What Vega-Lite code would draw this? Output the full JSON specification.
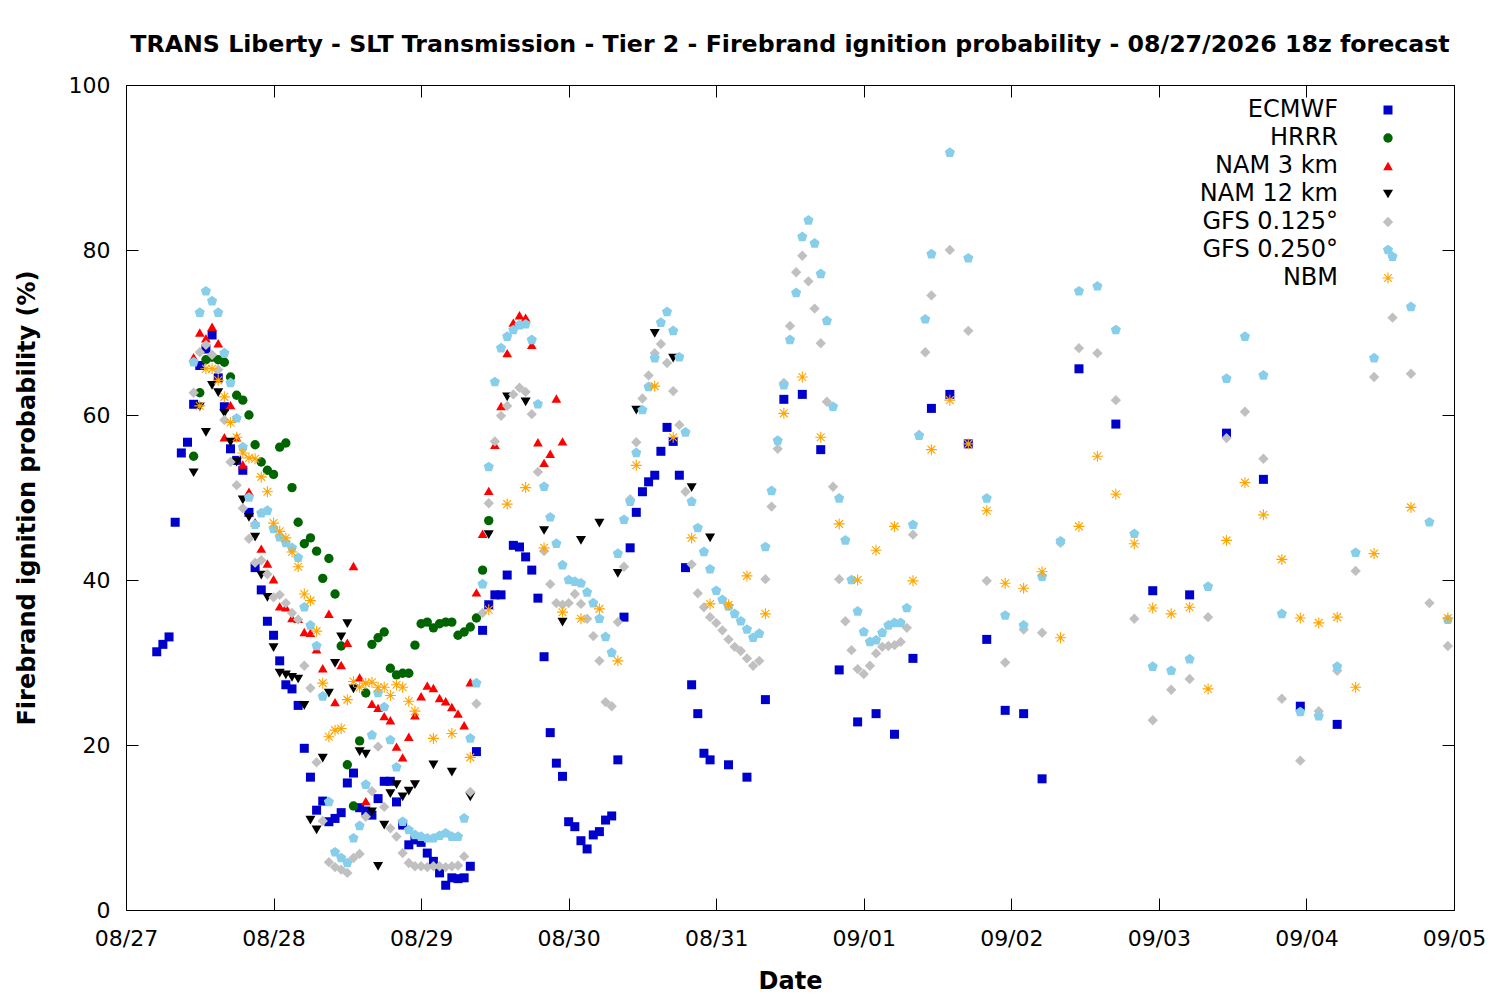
{
  "$schema": "https://vega.github.io/schema/vega-lite/v6.json",
  "width": 1328,
  "height": 825,
  "autosize": "none",
  "padding": {"left": 126, "top": 85, "right": 46, "bottom": 90},
  "background": "white",
  "title": {
    "text": "TRANS Liberty - SLT Transmission - Tier 2 - Firebrand ignition probability - 08/27/2026 18z forecast",
    "frame": "group",
    "anchor": "middle",
    "font": "DejaVu Sans",
    "fontSize": 23.7,
    "fontWeight": "bold",
    "color": "black",
    "offset": 17
  },
  "config": {
    "view": {"stroke": "black", "strokeWidth": 1},
    "font": "DejaVu Sans",
    "axis": {
      "grid": false,
      "domain": false,
      "tickColor": "black",
      "tickSize": -12,
      "tickWidth": 1,
      "labelFont": "DejaVu Sans",
      "labelFontSize": 22,
      "labelColor": "black",
      "titleFont": "DejaVu Sans",
      "titleFontSize": 24,
      "titleFontWeight": "bold",
      "titleColor": "black"
    },
    "legend": {
      "orient": "none",
      "legendX": 1250,
      "legendY": 13,
      "padding": 0,
      "labelFont": "DejaVu Sans",
      "labelFontSize": 24,
      "labelColor": "black",
      "labelAlign": "right",
      "labelOffset": -62,
      "rowPadding": 4,
      "symbolStrokeWidth": 0,
      "symbolOpacity": 1
    }
  },
  "data": {
    "values": [
      {"model":"ECMWF","hour":5,"prob":31.3},{"model":"ECMWF","hour":6,"prob":32.2},{"model":"ECMWF","hour":7,"prob":33.1},{"model":"ECMWF","hour":8,"prob":47},{"model":"ECMWF","hour":9,"prob":55.4},{"model":"ECMWF","hour":10,"prob":56.7},{"model":"ECMWF","hour":11,"prob":61.3},{"model":"ECMWF","hour":12,"prob":66},{"model":"ECMWF","hour":13,"prob":68},{"model":"ECMWF","hour":14,"prob":69.7},{"model":"ECMWF","hour":15,"prob":64.5},{"model":"ECMWF","hour":16,"prob":61},{"model":"ECMWF","hour":17,"prob":55.9},{"model":"ECMWF","hour":18,"prob":54.5},{"model":"ECMWF","hour":19,"prob":53.3},{"model":"ECMWF","hour":20,"prob":48.2},{"model":"ECMWF","hour":21,"prob":41.5},{"model":"ECMWF","hour":22,"prob":38.8},{"model":"ECMWF","hour":23,"prob":35},{"model":"ECMWF","hour":24,"prob":33.3},{"model":"ECMWF","hour":25,"prob":30.2},{"model":"ECMWF","hour":26,"prob":27.3},{"model":"ECMWF","hour":27,"prob":26.8},{"model":"ECMWF","hour":28,"prob":24.8},{"model":"ECMWF","hour":29,"prob":19.6},{"model":"ECMWF","hour":30,"prob":16.1},{"model":"ECMWF","hour":31,"prob":12.1},{"model":"ECMWF","hour":32,"prob":13.2},{"model":"ECMWF","hour":33,"prob":10.7},{"model":"ECMWF","hour":34,"prob":11.1},{"model":"ECMWF","hour":35,"prob":11.8},{"model":"ECMWF","hour":36,"prob":15.4},{"model":"ECMWF","hour":37,"prob":16.6},{"model":"ECMWF","hour":38,"prob":12.4},{"model":"ECMWF","hour":39,"prob":12},{"model":"ECMWF","hour":40,"prob":11.5},{"model":"ECMWF","hour":41,"prob":13.5},{"model":"ECMWF","hour":42,"prob":15.6},{"model":"ECMWF","hour":43,"prob":15.6},{"model":"ECMWF","hour":44,"prob":13.1},{"model":"ECMWF","hour":45,"prob":10.3},{"model":"ECMWF","hour":46,"prob":7.9},{"model":"ECMWF","hour":47,"prob":8.5},{"model":"ECMWF","hour":48,"prob":8.2},{"model":"ECMWF","hour":49,"prob":6.9},{"model":"ECMWF","hour":50,"prob":5.9},{"model":"ECMWF","hour":51,"prob":4.5},{"model":"ECMWF","hour":52,"prob":3},{"model":"ECMWF","hour":53,"prob":3.9},{"model":"ECMWF","hour":54,"prob":3.8},{"model":"ECMWF","hour":55,"prob":3.9},{"model":"ECMWF","hour":56,"prob":5.3},{"model":"ECMWF","hour":57,"prob":19.2},{"model":"ECMWF","hour":58,"prob":33.9},{"model":"ECMWF","hour":59,"prob":37},{"model":"ECMWF","hour":60,"prob":38.2},{"model":"ECMWF","hour":61,"prob":38.2},{"model":"ECMWF","hour":62,"prob":40.6},{"model":"ECMWF","hour":63,"prob":44.2},{"model":"ECMWF","hour":64,"prob":44},{"model":"ECMWF","hour":65,"prob":42.8},{"model":"ECMWF","hour":66,"prob":41.2},{"model":"ECMWF","hour":67,"prob":37.8},{"model":"ECMWF","hour":68,"prob":30.7},{"model":"ECMWF","hour":69,"prob":21.5},{"model":"ECMWF","hour":70,"prob":17.8},{"model":"ECMWF","hour":71,"prob":16.2},{"model":"ECMWF","hour":72,"prob":10.7},{"model":"ECMWF","hour":73,"prob":10.1},{"model":"ECMWF","hour":74,"prob":8.4},{"model":"ECMWF","hour":75,"prob":7.4},{"model":"ECMWF","hour":76,"prob":9.1},{"model":"ECMWF","hour":77,"prob":9.5},{"model":"ECMWF","hour":78,"prob":10.9},{"model":"ECMWF","hour":79,"prob":11.4},{"model":"ECMWF","hour":80,"prob":18.2},{"model":"ECMWF","hour":81,"prob":35.5},{"model":"ECMWF","hour":82,"prob":43.9},{"model":"ECMWF","hour":83,"prob":48.2},{"model":"ECMWF","hour":84,"prob":50.7},{"model":"ECMWF","hour":85,"prob":51.9},{"model":"ECMWF","hour":86,"prob":52.7},{"model":"ECMWF","hour":87,"prob":55.6},{"model":"ECMWF","hour":88,"prob":58.5},{"model":"ECMWF","hour":89,"prob":56.8},{"model":"ECMWF","hour":90,"prob":52.7},{"model":"ECMWF","hour":91,"prob":41.5},{"model":"ECMWF","hour":92,"prob":27.3},{"model":"ECMWF","hour":93,"prob":23.8},{"model":"ECMWF","hour":94,"prob":19},{"model":"ECMWF","hour":95,"prob":18.2},{"model":"ECMWF","hour":98,"prob":17.6},{"model":"ECMWF","hour":101,"prob":16.1},{"model":"ECMWF","hour":104,"prob":25.5},{"model":"ECMWF","hour":107,"prob":61.9},{"model":"ECMWF","hour":110,"prob":62.5},{"model":"ECMWF","hour":113,"prob":55.8},{"model":"ECMWF","hour":116,"prob":29.1},{"model":"ECMWF","hour":119,"prob":22.8},{"model":"ECMWF","hour":122,"prob":23.8},{"model":"ECMWF","hour":125,"prob":21.3},{"model":"ECMWF","hour":128,"prob":30.5},{"model":"ECMWF","hour":131,"prob":60.8},{"model":"ECMWF","hour":134,"prob":62.5},{"model":"ECMWF","hour":137,"prob":56.5},{"model":"ECMWF","hour":140,"prob":32.8},{"model":"ECMWF","hour":143,"prob":24.2},{"model":"ECMWF","hour":146,"prob":23.8},{"model":"ECMWF","hour":149,"prob":15.9},{"model":"ECMWF","hour":155,"prob":65.6},{"model":"ECMWF","hour":161,"prob":58.9},{"model":"ECMWF","hour":167,"prob":38.7},{"model":"ECMWF","hour":173,"prob":38.2},{"model":"ECMWF","hour":179,"prob":57.8},{"model":"ECMWF","hour":185,"prob":52.2},{"model":"ECMWF","hour":191,"prob":24.7},{"model":"ECMWF","hour":197,"prob":22.5},

      {"model":"HRRR","hour":11,"prob":55},{"model":"HRRR","hour":12,"prob":62.7},{"model":"HRRR","hour":13,"prob":66.7},{"model":"HRRR","hour":14,"prob":67},{"model":"HRRR","hour":15,"prob":66.7},{"model":"HRRR","hour":16,"prob":66.4},{"model":"HRRR","hour":17,"prob":64.6},{"model":"HRRR","hour":18,"prob":62.4},{"model":"HRRR","hour":19,"prob":61.8},{"model":"HRRR","hour":20,"prob":60},{"model":"HRRR","hour":21,"prob":56.4},{"model":"HRRR","hour":22,"prob":54.3},{"model":"HRRR","hour":23,"prob":53.3},{"model":"HRRR","hour":24,"prob":52.8},{"model":"HRRR","hour":25,"prob":56.1},{"model":"HRRR","hour":26,"prob":56.6},{"model":"HRRR","hour":27,"prob":51.2},{"model":"HRRR","hour":28,"prob":47},{"model":"HRRR","hour":29,"prob":44.4},{"model":"HRRR","hour":30,"prob":45.1},{"model":"HRRR","hour":31,"prob":43.5},{"model":"HRRR","hour":32,"prob":40.2},{"model":"HRRR","hour":33,"prob":42.6},{"model":"HRRR","hour":34,"prob":38.3},{"model":"HRRR","hour":35,"prob":32},{"model":"HRRR","hour":36,"prob":17.6},{"model":"HRRR","hour":37,"prob":12.6},{"model":"HRRR","hour":38,"prob":20.5},{"model":"HRRR","hour":39,"prob":26.3},{"model":"HRRR","hour":40,"prob":32.2},{"model":"HRRR","hour":41,"prob":33},{"model":"HRRR","hour":42,"prob":33.7},{"model":"HRRR","hour":43,"prob":29.3},{"model":"HRRR","hour":44,"prob":28.5},{"model":"HRRR","hour":45,"prob":28.7},{"model":"HRRR","hour":46,"prob":28.7},{"model":"HRRR","hour":47,"prob":32.1},{"model":"HRRR","hour":48,"prob":34.7},{"model":"HRRR","hour":49,"prob":34.9},{"model":"HRRR","hour":50,"prob":34.2},{"model":"HRRR","hour":51,"prob":34.7},{"model":"HRRR","hour":52,"prob":34.9},{"model":"HRRR","hour":53,"prob":34.9},{"model":"HRRR","hour":54,"prob":33.3},{"model":"HRRR","hour":55,"prob":33.7},{"model":"HRRR","hour":56,"prob":34.3},{"model":"HRRR","hour":57,"prob":35.4},{"model":"HRRR","hour":58,"prob":41.2},{"model":"HRRR","hour":59,"prob":47.2},

      {"model":"NAM 3 km","hour":11,"prob":67},{"model":"NAM 3 km","hour":12,"prob":70},{"model":"NAM 3 km","hour":13,"prob":69.3},{"model":"NAM 3 km","hour":14,"prob":70.7},{"model":"NAM 3 km","hour":15,"prob":68.7},{"model":"NAM 3 km","hour":16,"prob":57.3},{"model":"NAM 3 km","hour":17,"prob":61.2},{"model":"NAM 3 km","hour":18,"prob":57.3},{"model":"NAM 3 km","hour":19,"prob":54},{"model":"NAM 3 km","hour":20,"prob":50.7},{"model":"NAM 3 km","hour":21,"prob":47},{"model":"NAM 3 km","hour":22,"prob":43.8},{"model":"NAM 3 km","hour":23,"prob":42},{"model":"NAM 3 km","hour":24,"prob":40.1},{"model":"NAM 3 km","hour":25,"prob":36.8},{"model":"NAM 3 km","hour":26,"prob":36.7},{"model":"NAM 3 km","hour":27,"prob":35.4},{"model":"NAM 3 km","hour":28,"prob":35.3},{"model":"NAM 3 km","hour":29,"prob":33.7},{"model":"NAM 3 km","hour":30,"prob":33.6},{"model":"NAM 3 km","hour":31,"prob":31.6},{"model":"NAM 3 km","hour":32,"prob":29.3},{"model":"NAM 3 km","hour":33,"prob":35.9},{"model":"NAM 3 km","hour":34,"prob":25.2},{"model":"NAM 3 km","hour":35,"prob":29.7},{"model":"NAM 3 km","hour":36,"prob":32.4},{"model":"NAM 3 km","hour":37,"prob":41.7},{"model":"NAM 3 km","hour":38,"prob":28.2},{"model":"NAM 3 km","hour":39,"prob":13.2},{"model":"NAM 3 km","hour":40,"prob":25},{"model":"NAM 3 km","hour":41,"prob":24.5},{"model":"NAM 3 km","hour":42,"prob":23.5},{"model":"NAM 3 km","hour":43,"prob":23},{"model":"NAM 3 km","hour":44,"prob":19.8},{"model":"NAM 3 km","hour":45,"prob":18.5},{"model":"NAM 3 km","hour":46,"prob":21},{"model":"NAM 3 km","hour":47,"prob":23.6},{"model":"NAM 3 km","hour":48,"prob":25.9},{"model":"NAM 3 km","hour":49,"prob":27.2},{"model":"NAM 3 km","hour":50,"prob":26.9},{"model":"NAM 3 km","hour":51,"prob":25.7},{"model":"NAM 3 km","hour":52,"prob":25.3},{"model":"NAM 3 km","hour":53,"prob":24.6},{"model":"NAM 3 km","hour":54,"prob":23.8},{"model":"NAM 3 km","hour":55,"prob":22.4},{"model":"NAM 3 km","hour":56,"prob":27.6},{"model":"NAM 3 km","hour":57,"prob":38.5},{"model":"NAM 3 km","hour":58,"prob":45.6},{"model":"NAM 3 km","hour":59,"prob":50.8},{"model":"NAM 3 km","hour":60,"prob":56.4},{"model":"NAM 3 km","hour":61,"prob":61.1},{"model":"NAM 3 km","hour":62,"prob":67.5},{"model":"NAM 3 km","hour":63,"prob":71.2},{"model":"NAM 3 km","hour":64,"prob":72.1},{"model":"NAM 3 km","hour":65,"prob":71.8},{"model":"NAM 3 km","hour":66,"prob":68.5},{"model":"NAM 3 km","hour":67,"prob":56.7},{"model":"NAM 3 km","hour":68,"prob":54.2},{"model":"NAM 3 km","hour":69,"prob":55.3},{"model":"NAM 3 km","hour":70,"prob":62},{"model":"NAM 3 km","hour":71,"prob":56.8},

      {"model":"NAM 12 km","hour":11,"prob":53},{"model":"NAM 12 km","hour":12,"prob":61},{"model":"NAM 12 km","hour":13,"prob":57.9},{"model":"NAM 12 km","hour":14,"prob":63.6},{"model":"NAM 12 km","hour":15,"prob":62.7},{"model":"NAM 12 km","hour":16,"prob":60.2},{"model":"NAM 12 km","hour":17,"prob":56.7},{"model":"NAM 12 km","hour":18,"prob":54.3},{"model":"NAM 12 km","hour":19,"prob":49.7},{"model":"NAM 12 km","hour":20,"prob":47.6},{"model":"NAM 12 km","hour":21,"prob":45.2},{"model":"NAM 12 km","hour":22,"prob":40.6},{"model":"NAM 12 km","hour":23,"prob":37.9},{"model":"NAM 12 km","hour":24,"prob":31.8},{"model":"NAM 12 km","hour":25,"prob":28.7},{"model":"NAM 12 km","hour":26,"prob":28.5},{"model":"NAM 12 km","hour":27,"prob":28.2},{"model":"NAM 12 km","hour":28,"prob":28},{"model":"NAM 12 km","hour":29,"prob":24.8},{"model":"NAM 12 km","hour":30,"prob":10.9},{"model":"NAM 12 km","hour":31,"prob":9.7},{"model":"NAM 12 km","hour":32,"prob":18.4},{"model":"NAM 12 km","hour":33,"prob":26.3},{"model":"NAM 12 km","hour":34,"prob":29.9},{"model":"NAM 12 km","hour":35,"prob":33.1},{"model":"NAM 12 km","hour":36,"prob":34.7},{"model":"NAM 12 km","hour":37,"prob":26.8},{"model":"NAM 12 km","hour":38,"prob":19.2},{"model":"NAM 12 km","hour":39,"prob":18.9},{"model":"NAM 12 km","hour":40,"prob":11.9},{"model":"NAM 12 km","hour":41,"prob":5.3},{"model":"NAM 12 km","hour":42,"prob":10.3},{"model":"NAM 12 km","hour":43,"prob":14.1},{"model":"NAM 12 km","hour":44,"prob":15.2},{"model":"NAM 12 km","hour":45,"prob":13.7},{"model":"NAM 12 km","hour":46,"prob":14.4},{"model":"NAM 12 km","hour":47,"prob":15.2},{"model":"NAM 12 km","hour":50,"prob":17.6},{"model":"NAM 12 km","hour":53,"prob":16.7},{"model":"NAM 12 km","hour":56,"prob":13.7},{"model":"NAM 12 km","hour":59,"prob":45.5},{"model":"NAM 12 km","hour":62,"prob":62.2},{"model":"NAM 12 km","hour":65,"prob":61.6},{"model":"NAM 12 km","hour":68,"prob":46},{"model":"NAM 12 km","hour":71,"prob":34.9},{"model":"NAM 12 km","hour":74,"prob":44.8},{"model":"NAM 12 km","hour":77,"prob":46.9},{"model":"NAM 12 km","hour":80,"prob":40.8},{"model":"NAM 12 km","hour":83,"prob":60.6},{"model":"NAM 12 km","hour":86,"prob":69.9},{"model":"NAM 12 km","hour":89,"prob":66.9},{"model":"NAM 12 km","hour":92,"prob":51.2},{"model":"NAM 12 km","hour":95,"prob":45.1},

      {"model":"GFS 0.125°","hour":11,"prob":62.7},{"model":"GFS 0.125°","hour":12,"prob":67.6},{"model":"GFS 0.125°","hour":13,"prob":68.5},{"model":"GFS 0.125°","hour":14,"prob":67.3},{"model":"GFS 0.125°","hour":15,"prob":65.5},{"model":"GFS 0.125°","hour":16,"prob":59.4},{"model":"GFS 0.125°","hour":17,"prob":54.3},{"model":"GFS 0.125°","hour":18,"prob":51.5},{"model":"GFS 0.125°","hour":19,"prob":48.7},{"model":"GFS 0.125°","hour":20,"prob":45},{"model":"GFS 0.125°","hour":21,"prob":42.1},{"model":"GFS 0.125°","hour":22,"prob":42.4},{"model":"GFS 0.125°","hour":23,"prob":40.7},{"model":"GFS 0.125°","hour":24,"prob":37.9},{"model":"GFS 0.125°","hour":25,"prob":38.2},{"model":"GFS 0.125°","hour":26,"prob":37.2},{"model":"GFS 0.125°","hour":27,"prob":36},{"model":"GFS 0.125°","hour":28,"prob":35.2},{"model":"GFS 0.125°","hour":29,"prob":29.6},{"model":"GFS 0.125°","hour":30,"prob":26.9},{"model":"GFS 0.125°","hour":31,"prob":17.9},{"model":"GFS 0.125°","hour":32,"prob":10.8},{"model":"GFS 0.125°","hour":33,"prob":5.8},{"model":"GFS 0.125°","hour":34,"prob":5.2},{"model":"GFS 0.125°","hour":35,"prob":4.9},{"model":"GFS 0.125°","hour":36,"prob":4.5},{"model":"GFS 0.125°","hour":37,"prob":6.3},{"model":"GFS 0.125°","hour":38,"prob":6.8},{"model":"GFS 0.125°","hour":39,"prob":11.3},{"model":"GFS 0.125°","hour":40,"prob":14.4},{"model":"GFS 0.125°","hour":41,"prob":19.8},{"model":"GFS 0.125°","hour":42,"prob":12.5},{"model":"GFS 0.125°","hour":43,"prob":9.9},{"model":"GFS 0.125°","hour":44,"prob":8.9},{"model":"GFS 0.125°","hour":45,"prob":6.9},{"model":"GFS 0.125°","hour":46,"prob":5.7},{"model":"GFS 0.125°","hour":47,"prob":5.3},{"model":"GFS 0.125°","hour":48,"prob":5.3},{"model":"GFS 0.125°","hour":49,"prob":5.2},{"model":"GFS 0.125°","hour":50,"prob":5.3},{"model":"GFS 0.125°","hour":51,"prob":5.3},{"model":"GFS 0.125°","hour":52,"prob":5.2},{"model":"GFS 0.125°","hour":53,"prob":5.3},{"model":"GFS 0.125°","hour":54,"prob":5.4},{"model":"GFS 0.125°","hour":55,"prob":6.5},{"model":"GFS 0.125°","hour":56,"prob":14.3},{"model":"GFS 0.125°","hour":57,"prob":25},{"model":"GFS 0.125°","hour":58,"prob":36},{"model":"GFS 0.125°","hour":59,"prob":49.3},{"model":"GFS 0.125°","hour":60,"prob":56.8},{"model":"GFS 0.125°","hour":61,"prob":59.9},{"model":"GFS 0.125°","hour":62,"prob":61.1},{"model":"GFS 0.125°","hour":63,"prob":62.5},{"model":"GFS 0.125°","hour":64,"prob":63.3},{"model":"GFS 0.125°","hour":65,"prob":62.8},{"model":"GFS 0.125°","hour":66,"prob":60.1},{"model":"GFS 0.125°","hour":67,"prob":53.1},{"model":"GFS 0.125°","hour":68,"prob":43.5},{"model":"GFS 0.125°","hour":69,"prob":39.5},{"model":"GFS 0.125°","hour":70,"prob":37.2},{"model":"GFS 0.125°","hour":71,"prob":37},{"model":"GFS 0.125°","hour":72,"prob":37.2},{"model":"GFS 0.125°","hour":73,"prob":38.3},{"model":"GFS 0.125°","hour":74,"prob":37.1},{"model":"GFS 0.125°","hour":75,"prob":35.3},{"model":"GFS 0.125°","hour":76,"prob":33.2},{"model":"GFS 0.125°","hour":77,"prob":30.2},{"model":"GFS 0.125°","hour":78,"prob":25.2},{"model":"GFS 0.125°","hour":79,"prob":24.7},{"model":"GFS 0.125°","hour":80,"prob":34.9},{"model":"GFS 0.125°","hour":81,"prob":41.6},{"model":"GFS 0.125°","hour":82,"prob":49.8},{"model":"GFS 0.125°","hour":83,"prob":56.7},{"model":"GFS 0.125°","hour":84,"prob":62},{"model":"GFS 0.125°","hour":85,"prob":64.8},{"model":"GFS 0.125°","hour":86,"prob":67.5},{"model":"GFS 0.125°","hour":87,"prob":68.6},{"model":"GFS 0.125°","hour":88,"prob":66.3},{"model":"GFS 0.125°","hour":89,"prob":62.9},{"model":"GFS 0.125°","hour":90,"prob":58.8},{"model":"GFS 0.125°","hour":91,"prob":50.7},{"model":"GFS 0.125°","hour":92,"prob":41.9},{"model":"GFS 0.125°","hour":93,"prob":38.4},{"model":"GFS 0.125°","hour":94,"prob":36.7},{"model":"GFS 0.125°","hour":95,"prob":35.5},{"model":"GFS 0.125°","hour":96,"prob":34.8},{"model":"GFS 0.125°","hour":97,"prob":33.9},{"model":"GFS 0.125°","hour":98,"prob":32.8},{"model":"GFS 0.125°","hour":99,"prob":31.9},{"model":"GFS 0.125°","hour":100,"prob":31.4},{"model":"GFS 0.125°","hour":101,"prob":30.5},{"model":"GFS 0.125°","hour":102,"prob":29.6},{"model":"GFS 0.125°","hour":103,"prob":30.2},{"model":"GFS 0.125°","hour":104,"prob":40.1},{"model":"GFS 0.125°","hour":105,"prob":48.9},{"model":"GFS 0.125°","hour":106,"prob":55.9},{"model":"GFS 0.125°","hour":107,"prob":63.9},{"model":"GFS 0.125°","hour":108,"prob":70.8},{"model":"GFS 0.125°","hour":109,"prob":77.3},{"model":"GFS 0.125°","hour":110,"prob":79.3},{"model":"GFS 0.125°","hour":111,"prob":76.2},{"model":"GFS 0.125°","hour":112,"prob":72.9},{"model":"GFS 0.125°","hour":113,"prob":68.7},{"model":"GFS 0.125°","hour":114,"prob":61.6},{"model":"GFS 0.125°","hour":115,"prob":51.3},{"model":"GFS 0.125°","hour":116,"prob":40.1},{"model":"GFS 0.125°","hour":117,"prob":35},{"model":"GFS 0.125°","hour":118,"prob":31.5},{"model":"GFS 0.125°","hour":119,"prob":29.2},{"model":"GFS 0.125°","hour":120,"prob":28.6},{"model":"GFS 0.125°","hour":121,"prob":29.6},{"model":"GFS 0.125°","hour":122,"prob":31.1},{"model":"GFS 0.125°","hour":123,"prob":31.9},{"model":"GFS 0.125°","hour":124,"prob":32},{"model":"GFS 0.125°","hour":125,"prob":32.1},{"model":"GFS 0.125°","hour":126,"prob":32.5},{"model":"GFS 0.125°","hour":127,"prob":34.2},{"model":"GFS 0.125°","hour":128,"prob":45.5},{"model":"GFS 0.125°","hour":129,"prob":57.6},{"model":"GFS 0.125°","hour":130,"prob":67.6},{"model":"GFS 0.125°","hour":131,"prob":74.5},{"model":"GFS 0.125°","hour":134,"prob":80},{"model":"GFS 0.125°","hour":137,"prob":70.2},{"model":"GFS 0.125°","hour":140,"prob":39.9},{"model":"GFS 0.125°","hour":143,"prob":30},{"model":"GFS 0.125°","hour":146,"prob":34},{"model":"GFS 0.125°","hour":149,"prob":33.6},{"model":"GFS 0.125°","hour":152,"prob":44.5},{"model":"GFS 0.125°","hour":155,"prob":68.1},{"model":"GFS 0.125°","hour":158,"prob":67.5},{"model":"GFS 0.125°","hour":161,"prob":61.8},{"model":"GFS 0.125°","hour":164,"prob":35.3},{"model":"GFS 0.125°","hour":167,"prob":23},{"model":"GFS 0.125°","hour":170,"prob":26.7},{"model":"GFS 0.125°","hour":173,"prob":28},{"model":"GFS 0.125°","hour":176,"prob":35.5},{"model":"GFS 0.125°","hour":179,"prob":57.2},{"model":"GFS 0.125°","hour":182,"prob":60.4},{"model":"GFS 0.125°","hour":185,"prob":54.7},{"model":"GFS 0.125°","hour":188,"prob":25.6},{"model":"GFS 0.125°","hour":191,"prob":18.1},{"model":"GFS 0.125°","hour":194,"prob":24.1},{"model":"GFS 0.125°","hour":197,"prob":29},{"model":"GFS 0.125°","hour":200,"prob":41.1},{"model":"GFS 0.125°","hour":203,"prob":64.6},{"model":"GFS 0.125°","hour":206,"prob":71.8},{"model":"GFS 0.125°","hour":209,"prob":65},{"model":"GFS 0.125°","hour":212,"prob":37.2},{"model":"GFS 0.125°","hour":215,"prob":32},

      {"model":"GFS 0.250°","hour":11,"prob":66.4},{"model":"GFS 0.250°","hour":12,"prob":72.4},{"model":"GFS 0.250°","hour":13,"prob":75},{"model":"GFS 0.250°","hour":14,"prob":73.8},{"model":"GFS 0.250°","hour":15,"prob":72.4},{"model":"GFS 0.250°","hour":16,"prob":67.5},{"model":"GFS 0.250°","hour":17,"prob":63.9},{"model":"GFS 0.250°","hour":18,"prob":59.6},{"model":"GFS 0.250°","hour":19,"prob":56.1},{"model":"GFS 0.250°","hour":20,"prob":50},{"model":"GFS 0.250°","hour":21,"prob":46.7},{"model":"GFS 0.250°","hour":22,"prob":48.1},{"model":"GFS 0.250°","hour":23,"prob":48.4},{"model":"GFS 0.250°","hour":24,"prob":46.2},{"model":"GFS 0.250°","hour":25,"prob":45.2},{"model":"GFS 0.250°","hour":26,"prob":44.5},{"model":"GFS 0.250°","hour":27,"prob":43.9},{"model":"GFS 0.250°","hour":28,"prob":42.7},{"model":"GFS 0.250°","hour":29,"prob":36.7},{"model":"GFS 0.250°","hour":30,"prob":34.5},{"model":"GFS 0.250°","hour":31,"prob":32},{"model":"GFS 0.250°","hour":32,"prob":25.9},{"model":"GFS 0.250°","hour":33,"prob":13.1},{"model":"GFS 0.250°","hour":34,"prob":7},{"model":"GFS 0.250°","hour":35,"prob":6.3},{"model":"GFS 0.250°","hour":36,"prob":5.7},{"model":"GFS 0.250°","hour":37,"prob":8.7},{"model":"GFS 0.250°","hour":38,"prob":10.2},{"model":"GFS 0.250°","hour":39,"prob":15.2},{"model":"GFS 0.250°","hour":40,"prob":21.2},{"model":"GFS 0.250°","hour":41,"prob":26.3},{"model":"GFS 0.250°","hour":42,"prob":24.6},{"model":"GFS 0.250°","hour":43,"prob":20.6},{"model":"GFS 0.250°","hour":44,"prob":17.3},{"model":"GFS 0.250°","hour":45,"prob":10.7},{"model":"GFS 0.250°","hour":46,"prob":9.7},{"model":"GFS 0.250°","hour":47,"prob":9.1},{"model":"GFS 0.250°","hour":48,"prob":8.9},{"model":"GFS 0.250°","hour":49,"prob":8.7},{"model":"GFS 0.250°","hour":50,"prob":8.7},{"model":"GFS 0.250°","hour":51,"prob":9},{"model":"GFS 0.250°","hour":52,"prob":9.3},{"model":"GFS 0.250°","hour":53,"prob":8.9},{"model":"GFS 0.250°","hour":54,"prob":8.9},{"model":"GFS 0.250°","hour":55,"prob":11.1},{"model":"GFS 0.250°","hour":56,"prob":20.8},{"model":"GFS 0.250°","hour":57,"prob":27.5},{"model":"GFS 0.250°","hour":58,"prob":39.5},{"model":"GFS 0.250°","hour":59,"prob":53.7},{"model":"GFS 0.250°","hour":60,"prob":64},{"model":"GFS 0.250°","hour":61,"prob":68.1},{"model":"GFS 0.250°","hour":62,"prob":69.5},{"model":"GFS 0.250°","hour":63,"prob":70.3},{"model":"GFS 0.250°","hour":64,"prob":70.9},{"model":"GFS 0.250°","hour":65,"prob":71},{"model":"GFS 0.250°","hour":66,"prob":69.1},{"model":"GFS 0.250°","hour":67,"prob":61.3},{"model":"GFS 0.250°","hour":68,"prob":51.3},{"model":"GFS 0.250°","hour":69,"prob":47.6},{"model":"GFS 0.250°","hour":70,"prob":44.4},{"model":"GFS 0.250°","hour":71,"prob":41.8},{"model":"GFS 0.250°","hour":72,"prob":40},{"model":"GFS 0.250°","hour":73,"prob":39.8},{"model":"GFS 0.250°","hour":74,"prob":39.6},{"model":"GFS 0.250°","hour":75,"prob":38.5},{"model":"GFS 0.250°","hour":76,"prob":37.2},{"model":"GFS 0.250°","hour":77,"prob":35.3},{"model":"GFS 0.250°","hour":78,"prob":33.1},{"model":"GFS 0.250°","hour":79,"prob":31.2},{"model":"GFS 0.250°","hour":80,"prob":43.2},{"model":"GFS 0.250°","hour":81,"prob":47.3},{"model":"GFS 0.250°","hour":82,"prob":49.5},{"model":"GFS 0.250°","hour":83,"prob":55.4},{"model":"GFS 0.250°","hour":84,"prob":60.6},{"model":"GFS 0.250°","hour":85,"prob":63.4},{"model":"GFS 0.250°","hour":86,"prob":66.9},{"model":"GFS 0.250°","hour":87,"prob":71.2},{"model":"GFS 0.250°","hour":88,"prob":72.5},{"model":"GFS 0.250°","hour":89,"prob":70.2},{"model":"GFS 0.250°","hour":90,"prob":67},{"model":"GFS 0.250°","hour":91,"prob":57.9},{"model":"GFS 0.250°","hour":92,"prob":49.5},{"model":"GFS 0.250°","hour":93,"prob":46.3},{"model":"GFS 0.250°","hour":94,"prob":43.4},{"model":"GFS 0.250°","hour":95,"prob":41.3},{"model":"GFS 0.250°","hour":96,"prob":38.7},{"model":"GFS 0.250°","hour":97,"prob":37.6},{"model":"GFS 0.250°","hour":98,"prob":36.8},{"model":"GFS 0.250°","hour":99,"prob":35.9},{"model":"GFS 0.250°","hour":100,"prob":35},{"model":"GFS 0.250°","hour":101,"prob":34},{"model":"GFS 0.250°","hour":102,"prob":33},{"model":"GFS 0.250°","hour":103,"prob":33.5},{"model":"GFS 0.250°","hour":104,"prob":44},{"model":"GFS 0.250°","hour":105,"prob":50.8},{"model":"GFS 0.250°","hour":106,"prob":56.9},{"model":"GFS 0.250°","hour":107,"prob":63.6},{"model":"GFS 0.250°","hour":108,"prob":69.1},{"model":"GFS 0.250°","hour":109,"prob":74.8},{"model":"GFS 0.250°","hour":110,"prob":81.6},{"model":"GFS 0.250°","hour":111,"prob":83.6},{"model":"GFS 0.250°","hour":112,"prob":80.8},{"model":"GFS 0.250°","hour":113,"prob":77.1},{"model":"GFS 0.250°","hour":114,"prob":71.4},{"model":"GFS 0.250°","hour":115,"prob":61},{"model":"GFS 0.250°","hour":116,"prob":49.9},{"model":"GFS 0.250°","hour":117,"prob":44.8},{"model":"GFS 0.250°","hour":118,"prob":40},{"model":"GFS 0.250°","hour":119,"prob":36.2},{"model":"GFS 0.250°","hour":120,"prob":33.7},{"model":"GFS 0.250°","hour":121,"prob":32.5},{"model":"GFS 0.250°","hour":122,"prob":32.7},{"model":"GFS 0.250°","hour":123,"prob":33.6},{"model":"GFS 0.250°","hour":124,"prob":34.5},{"model":"GFS 0.250°","hour":125,"prob":34.8},{"model":"GFS 0.250°","hour":126,"prob":34.8},{"model":"GFS 0.250°","hour":127,"prob":36.6},{"model":"GFS 0.250°","hour":128,"prob":46.7},{"model":"GFS 0.250°","hour":129,"prob":57.5},{"model":"GFS 0.250°","hour":130,"prob":71.6},{"model":"GFS 0.250°","hour":131,"prob":79.5},{"model":"GFS 0.250°","hour":134,"prob":91.8},{"model":"GFS 0.250°","hour":137,"prob":79},{"model":"GFS 0.250°","hour":140,"prob":49.9},{"model":"GFS 0.250°","hour":143,"prob":35.7},{"model":"GFS 0.250°","hour":146,"prob":34.5},{"model":"GFS 0.250°","hour":149,"prob":40.4},{"model":"GFS 0.250°","hour":152,"prob":44.7},{"model":"GFS 0.250°","hour":155,"prob":75},{"model":"GFS 0.250°","hour":158,"prob":75.6},{"model":"GFS 0.250°","hour":161,"prob":70.3},{"model":"GFS 0.250°","hour":164,"prob":45.6},{"model":"GFS 0.250°","hour":167,"prob":29.5},{"model":"GFS 0.250°","hour":170,"prob":29},{"model":"GFS 0.250°","hour":173,"prob":30.4},{"model":"GFS 0.250°","hour":176,"prob":39.2},{"model":"GFS 0.250°","hour":179,"prob":64.4},{"model":"GFS 0.250°","hour":182,"prob":69.5},{"model":"GFS 0.250°","hour":185,"prob":64.8},{"model":"GFS 0.250°","hour":188,"prob":35.9},{"model":"GFS 0.250°","hour":191,"prob":24},{"model":"GFS 0.250°","hour":194,"prob":23.5},{"model":"GFS 0.250°","hour":197,"prob":29.5},{"model":"GFS 0.250°","hour":200,"prob":43.3},{"model":"GFS 0.250°","hour":203,"prob":66.9},{"model":"GFS 0.250°","hour":206,"prob":79.2},{"model":"GFS 0.250°","hour":209,"prob":73.1},{"model":"GFS 0.250°","hour":212,"prob":47},{"model":"GFS 0.250°","hour":215,"prob":35.2},

      {"model":"NBM","hour":12,"prob":61.1},{"model":"NBM","hour":13,"prob":65.6},{"model":"NBM","hour":14,"prob":65.6},{"model":"NBM","hour":15,"prob":64.2},{"model":"NBM","hour":16,"prob":62.2},{"model":"NBM","hour":17,"prob":59.1},{"model":"NBM","hour":18,"prob":57.3},{"model":"NBM","hour":19,"prob":55.4},{"model":"NBM","hour":20,"prob":54.8},{"model":"NBM","hour":21,"prob":54.7},{"model":"NBM","hour":22,"prob":52.5},{"model":"NBM","hour":23,"prob":50.7},{"model":"NBM","hour":24,"prob":46.9},{"model":"NBM","hour":25,"prob":45.9},{"model":"NBM","hour":26,"prob":45.1},{"model":"NBM","hour":27,"prob":43.4},{"model":"NBM","hour":28,"prob":41.6},{"model":"NBM","hour":29,"prob":38.3},{"model":"NBM","hour":30,"prob":37.5},{"model":"NBM","hour":31,"prob":33.8},{"model":"NBM","hour":32,"prob":27.5},{"model":"NBM","hour":33,"prob":21},{"model":"NBM","hour":34,"prob":21.8},{"model":"NBM","hour":35,"prob":22},{"model":"NBM","hour":36,"prob":25.5},{"model":"NBM","hour":37,"prob":27.7},{"model":"NBM","hour":38,"prob":27},{"model":"NBM","hour":39,"prob":27.5},{"model":"NBM","hour":40,"prob":27.6},{"model":"NBM","hour":41,"prob":27},{"model":"NBM","hour":42,"prob":27},{"model":"NBM","hour":43,"prob":26},{"model":"NBM","hour":44,"prob":27.3},{"model":"NBM","hour":45,"prob":27},{"model":"NBM","hour":46,"prob":25.3},{"model":"NBM","hour":47,"prob":24.1},{"model":"NBM","hour":50,"prob":20.8},{"model":"NBM","hour":53,"prob":21.4},{"model":"NBM","hour":56,"prob":18.5},{"model":"NBM","hour":59,"prob":36.4},{"model":"NBM","hour":62,"prob":49.2},{"model":"NBM","hour":65,"prob":51.2},{"model":"NBM","hour":68,"prob":43.9},{"model":"NBM","hour":71,"prob":36.1},{"model":"NBM","hour":74,"prob":35.3},{"model":"NBM","hour":77,"prob":36.5},{"model":"NBM","hour":80,"prob":30.2},{"model":"NBM","hour":83,"prob":53.9},{"model":"NBM","hour":86,"prob":63.5},{"model":"NBM","hour":89,"prob":57.3},{"model":"NBM","hour":92,"prob":45.1},{"model":"NBM","hour":95,"prob":37.1},{"model":"NBM","hour":98,"prob":37},{"model":"NBM","hour":101,"prob":40.5},{"model":"NBM","hour":104,"prob":35.9},{"model":"NBM","hour":107,"prob":60.2},{"model":"NBM","hour":110,"prob":64.6},{"model":"NBM","hour":113,"prob":57.3},{"model":"NBM","hour":116,"prob":46.8},{"model":"NBM","hour":119,"prob":40},{"model":"NBM","hour":122,"prob":43.6},{"model":"NBM","hour":125,"prob":46.5},{"model":"NBM","hour":128,"prob":39.9},{"model":"NBM","hour":131,"prob":55.8},{"model":"NBM","hour":134,"prob":61.8},{"model":"NBM","hour":137,"prob":56.5},{"model":"NBM","hour":140,"prob":48.4},{"model":"NBM","hour":143,"prob":39.6},{"model":"NBM","hour":146,"prob":39},{"model":"NBM","hour":149,"prob":41},{"model":"NBM","hour":152,"prob":33},{"model":"NBM","hour":155,"prob":46.5},{"model":"NBM","hour":158,"prob":55},{"model":"NBM","hour":161,"prob":50.4},{"model":"NBM","hour":164,"prob":44.4},{"model":"NBM","hour":167,"prob":36.6},{"model":"NBM","hour":170,"prob":35.9},{"model":"NBM","hour":173,"prob":36.7},{"model":"NBM","hour":176,"prob":26.8},{"model":"NBM","hour":179,"prob":44.8},{"model":"NBM","hour":182,"prob":51.8},{"model":"NBM","hour":185,"prob":47.9},{"model":"NBM","hour":188,"prob":42.5},{"model":"NBM","hour":191,"prob":35.4},{"model":"NBM","hour":194,"prob":34.8},{"model":"NBM","hour":197,"prob":35.5},{"model":"NBM","hour":200,"prob":27},{"model":"NBM","hour":203,"prob":43.2},{"model":"NBM","hour":209,"prob":48.8},{"model":"NBM","hour":215,"prob":35.4}
    ]
  },
  "encoding": {
    "x": {
      "field": "hour",
      "type": "quantitative",
      "scale": {"domain": [0, 216], "nice": false, "zero": false}
    },
    "y": {
      "field": "prob",
      "type": "quantitative",
      "scale": {"domain": [0, 100], "nice": false}
    }
  },
  "layer": [
    {
      "mark": {"type": "point", "filled": true, "opacity": 1, "strokeWidth": 0},
      "encoding": {
        "x": {
          "field": "hour",
          "type": "quantitative",
          "title": "Date",
          "axis": {
            "orient": "bottom",
            "values": [0, 24, 48, 72, 96, 120, 144, 168, 192, 216],
            "labelExpr": "['08/27','08/28','08/29','08/30','08/31','09/01','09/02','09/03','09/04','09/05'][round(datum.value / 24)]",
            "labelPadding": 30,
            "labelFlush": false,
            "titlePadding": 20
          }
        },
        "y": {
          "field": "prob",
          "type": "quantitative",
          "title": "Firebrand ignition probability (%)",
          "axis": {
            "orient": "left",
            "values": [0, 20, 40, 60, 80, 100],
            "labelPadding": 28,
            "titlePadding": 29
          }
        },
        "color": {
          "field": "model",
          "type": "nominal",
          "title": null,
          "scale": {
            "domain": ["ECMWF", "HRRR", "NAM 3 km", "NAM 12 km", "GFS 0.125°", "GFS 0.250°", "NBM"],
            "range": ["#0000cd", "#006400", "#ff0000", "#000000", "#c0c0c0", "#87ceeb", "#ffa500"]
          }
        },
        "shape": {
          "field": "model",
          "type": "nominal",
          "title": null,
          "scale": {
            "domain": ["ECMWF", "HRRR", "NAM 3 km", "NAM 12 km", "GFS 0.125°", "GFS 0.250°", "NBM"],
            "range": [
              "square",
              "circle",
              "triangle-up",
              "triangle-down",
              "diamond",
              "M0,-1L0.951,-0.309L0.588,0.809L-0.588,0.809L-0.951,-0.309Z",
              "M-1,-0.1L1,-0.1L1,0.1L-1,0.1ZM-0.1,-1L0.1,-1L0.1,1L-0.1,1ZM-0.778,-0.636L-0.636,-0.778L0.778,0.636L0.636,0.778ZM-0.778,0.636L0.636,-0.778L0.778,-0.636L-0.636,0.778Z"
            ]
          }
        },
        "size": {
          "field": "model",
          "type": "nominal",
          "title": null,
          "scale": {
            "domain": ["ECMWF", "HRRR", "NAM 3 km", "NAM 12 km", "GFS 0.125°", "GFS 0.250°", "NBM"],
            "range": [81, 121, 144, 144, 110, 135, 140]
          }
        }
      }
    },
    {
      "mark": {"type": "point", "opacity": 0},
      "encoding": {
        "x": {
          "field": "hour",
          "type": "quantitative",
          "axis": {
            "orient": "top",
            "values": [0, 24, 48, 72, 96, 120, 144, 168, 192, 216],
            "labels": false,
            "title": null
          }
        },
        "y": {
          "field": "prob",
          "type": "quantitative",
          "axis": {
            "orient": "right",
            "values": [0, 20, 40, 60, 80, 100],
            "labels": false,
            "title": null
          }
        }
      }
    }
  ],
  "resolve": {"axis": {"x": "independent", "y": "independent"}}
}
